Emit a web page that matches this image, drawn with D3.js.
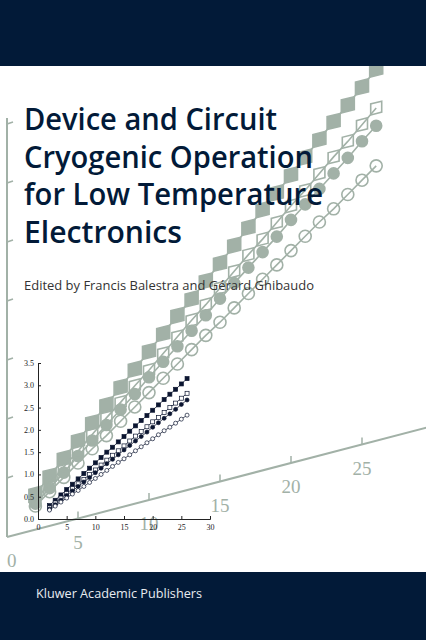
<!DOCTYPE html>
<html><head><meta charset="utf-8">
<script src="https://cdn.jsdelivr.net/npm/d3@7"></script>
<style>body{margin:0;background:#fff}</style>
</head><body><div id="container"></div>
<script>
// data
let xs = [2,3,4,5,6,7,8,9,10,11,12,13,14,15,16,17,18,19,20,21,22,23,24,25,26];
let filledSquares = [0.30,0.42,0.54,0.66,0.78,0.90,1.02,1.14,1.26,1.38,1.50,1.61,1.73,1.85,1.97,2.09,2.21,2.32,2.44,2.56,2.68,2.80,2.91,3.03,3.15];
let openSquares = [0.25,0.36,0.47,0.57,0.68,0.79,0.89,1.00,1.10,1.21,1.32,1.43,1.53,1.64,1.75,1.86,1.96,2.07,2.18,2.28,2.39,2.50,2.60,2.71,2.82];
let filledCircles = [0.22,0.32,0.42,0.53,0.63,0.73,0.83,0.93,1.04,1.14,1.24,1.34,1.44,1.55,1.65,1.75,1.85,1.95,2.06,2.16,2.26,2.36,2.46,2.57,2.67];
let openCircles = [0.20,0.29,0.38,0.47,0.56,0.64,0.73,0.82,0.91,1.00,1.09,1.18,1.27,1.35,1.44,1.53,1.62,1.71,1.80,1.89,1.98,2.06,2.15,2.24,2.33];
let xTicks = [0,5,10,15,20,25,30];
let yTicks = [0,0.5,1,1.5,2,2.5,3,3.5];
let bigXTicks = [0,5,10,15,20,25];
let titleLines = ["Device and Circuit","Cryogenic Operation","for Low Temperature","Electronics"];

let width = 426, height = 640;
let navy = "#021a38", sage = "#a2b1a7";
let series = [
  {v: filledSquares, shape: "sq", fill: true},
  {v: openSquares, shape: "sq", fill: false},
  {v: filledCircles, shape: "c", fill: true},
  {v: openCircles, shape: "c", fill: false}
];

let svg = d3.select("#container").append("svg").attr("width", width).attr("height", height);

// 大图：斜投影
let bx = d3.scaleLinear().domain([0, 30]).range([7, 433]);
let bfloor = d3.scaleLinear().domain([0, 30]).range([537, 426]);
let bv = d3.scaleLinear().domain([0, 1]).range([0, 118]);
let P = (x, v) => [bx(x), bfloor(x) - bv(v)];

let big = svg.append("g");
big.append("line").attr("x1", bx(0)).attr("y1", bfloor(0)).attr("x2", bx(30)).attr("y2", bfloor(30))
  .attr("stroke", sage).attr("stroke-width", 2);
big.append("line").attr("x1", 7).attr("y1", bfloor(0)).attr("x2", 7).attr("y2", bfloor(0) - bv(3.55))
  .attr("stroke", sage).attr("stroke-width", 2);
yTicks.slice(1).forEach(t => {
  big.append("line").attr("x1", 7).attr("x2", 13).attr("y1", bfloor(0) - bv(t)).attr("y2", bfloor(0) - bv(t) - 2)
    .attr("stroke", sage).attr("stroke-width", 1.5);
});
bigXTicks.forEach(t => {
  if (t > 0) big.append("line").attr("x1", bx(t)).attr("x2", bx(t)).attr("y1", bfloor(t)).attr("y2", bfloor(t) - 7)
    .attr("stroke", sage).attr("stroke-width", 1.5);
  big.append("text").attr("x", bx(t)).attr("y", bfloor(t) + 30).attr("text-anchor", t == 0 ? "start" : "middle")
    .attr("font-family", "Liberation Serif").attr("font-size", 19).attr("fill", sage).text(t);
});
series.forEach(s => {
  let pts = xs.map((x, i) => P(x, s.v[i]));
  big.append("path").attr("d", d3.line()(pts)).attr("fill", "none").attr("stroke", sage).attr("stroke-width", 1.6);
  pts.forEach(p => {
    let m;
    if (s.shape == "sq") {
      let r = s.fill ? 6.5 : 5.5;
      m = big.append("rect").attr("x", p[0] - r).attr("y", p[1] - r).attr("width", 2 * r).attr("height", 2 * r)
        .attr("transform", `skewY(-14) translate(0,${Math.tan(14 * Math.PI / 180) * p[0]})`);
    } else {
      m = big.append("circle").attr("cx", p[0]).attr("cy", p[1]).attr("r", s.fill ? 5.5 : 6);
    }
    m.attr("fill", s.fill ? sage : "none").attr("stroke", sage).attr("stroke-width", 1.6);
  });
});

// 小图
let sx = d3.scaleLinear().domain([0, 30]).range([38, 210]);
let sy = d3.scaleLinear().domain([0, 3.5]).range([519, 363]);
let small = svg.append("g");
small.append("g").attr("transform", "translate(0,519)")
  .call(d3.axisBottom(sx).tickValues(xTicks).tickSize(-3).tickPadding(5))
  .call(g => g.selectAll("text").attr("font-family", "Liberation Serif").attr("font-size", 8).attr("fill", "#222"));
small.append("g").attr("transform", "translate(38,0)")
  .call(d3.axisLeft(sy).tickValues(yTicks).tickSize(-3).tickPadding(4))
  .call(g => g.selectAll("text").attr("font-family", "Liberation Serif").attr("font-size", 8).attr("fill", "#222"));
small.selectAll(".domain,.tick line").attr("stroke", "#222");
series.forEach(s => {
  let pts = xs.map((x, i) => [sx(x), sy(s.v[i])]);
  small.append("path").attr("d", d3.line()(pts)).attr("fill", "none").attr("stroke", "#1a2238").attr("stroke-width", 0.8);
  pts.forEach(p => {
    let m;
    if (s.shape == "sq") m = small.append("rect").attr("x", p[0] - 2).attr("y", p[1] - 2).attr("width", 4).attr("height", 4);
    else m = small.append("circle").attr("cx", p[0]).attr("cy", p[1]).attr("r", 2);
    m.attr("fill", s.fill ? "#0b1530" : "#fff").attr("stroke", "#0b1530").attr("stroke-width", 0.7);
  });
});

// 色带
svg.append("rect").attr("x", 0).attr("y", 0).attr("width", width).attr("height", 66).attr("fill", navy);
svg.append("rect").attr("x", 0).attr("y", 572).attr("width", width).attr("height", 68).attr("fill", navy);
svg.append("text").attr("x", 36).attr("y", 598).attr("fill", "#e8ecf0").attr("font-family", "Open Sans")
  .attr("font-size", 13).attr("textLength", 166).attr("lengthAdjust", "spacingAndGlyphs").text("Kluwer Academic Publishers");

// 标题
let widths = [253, 289, 299, 158];
titleLines.forEach((t, i) => {
  svg.append("text").attr("x", 24).attr("y", 130 + i * 37.5).attr("fill", navy).attr("font-family", "Open Sans")
    .attr("font-weight", 600).attr("font-size", 30).attr("textLength", widths[i]).attr("lengthAdjust", "spacingAndGlyphs").text(t);
});
svg.append("text").attr("x", 24).attr("y", 290).attr("fill", "#333").attr("font-family", "Open Sans")
  .attr("font-size", 13).attr("textLength", 290).attr("lengthAdjust", "spacingAndGlyphs").text("Edited by Francis Balestra and Gérard Ghibaudo");
</script></body></html>
